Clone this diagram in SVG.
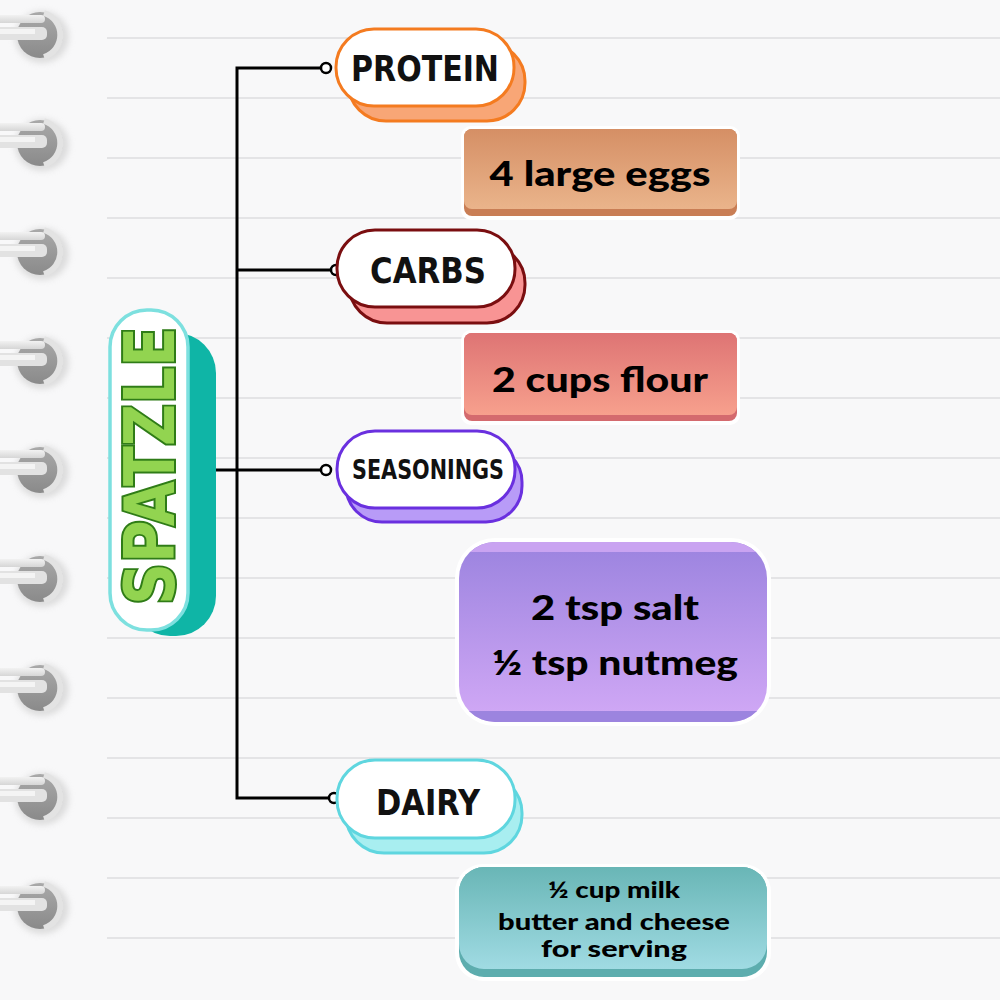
<svg xmlns="http://www.w3.org/2000/svg" width="1000" height="1000" viewBox="0 0 1000 1000">
<defs>
<style>
.rule{stroke:#e4e4e6;stroke-width:2}
.title{font-family:"DejaVu Sans Condensed","DejaVu Sans",sans-serif;font-weight:bold;fill:#111;text-anchor:middle;dominant-baseline:central}
.item{font-family:"Lato","Open Sans",sans-serif;font-weight:900;fill:#000;text-anchor:middle;dominant-baseline:central}
.conn{stroke:#000;stroke-width:3;fill:none}
.dot{fill:#fff;stroke:#000;stroke-width:2.5}
</style>
<linearGradient id="gEggs" x1="0" y1="0" x2="0" y2="1"><stop offset="0" stop-color="#d58f65"/><stop offset="1" stop-color="#eab48b"/></linearGradient>
<linearGradient id="gFlour" x1="0" y1="0" x2="0" y2="1"><stop offset="0" stop-color="#de7474"/><stop offset="1" stop-color="#f7a08d"/></linearGradient>
<linearGradient id="gSeas" x1="0" y1="0" x2="0" y2="1"><stop offset="0" stop-color="#9b83df"/><stop offset="1" stop-color="#d2a9f6"/></linearGradient>
<linearGradient id="gDairy" x1="0" y1="0" x2="0" y2="1"><stop offset="0" stop-color="#69b6b6"/><stop offset="1" stop-color="#a0dbe3"/></linearGradient>
<linearGradient id="gHole" x1="0" y1="0" x2="0" y2="1"><stop offset="0" stop-color="#a9a9a9"/><stop offset="1" stop-color="#8a8a8a"/></linearGradient>
<linearGradient id="gBar" x1="0" y1="0" x2="0" y2="1"><stop offset="0" stop-color="#f2f2f2"/><stop offset="1" stop-color="#d6d6d6"/></linearGradient>
<filter id="soft" x="-40%" y="-40%" width="180%" height="180%"><feGaussianBlur stdDeviation="3"/></filter>
<clipPath id="clipSalt"><rect x="459" y="542" width="308" height="180" rx="36"/></clipPath>
<g id="ring">
<ellipse cx="42" cy="3" rx="27" ry="26" fill="#d0d0d0" filter="url(#soft)" opacity="0.7"/>
<circle cx="40" cy="1" r="23" fill="url(#gHole)"/>
<path d="M44,-21 A23,23 0 0 1 44,23" fill="none" stroke="#e3e3e3" stroke-width="6"/>
<rect x="-5" y="-19" width="50" height="8" rx="4" fill="url(#gBar)"/>
<rect x="-5" y="-7" width="52" height="13" rx="5" fill="#e2e2e2"/>
<rect x="-5" y="-5" width="40" height="5" fill="#f4f4f4"/>
</g>
</defs>
<rect width="1000" height="1000" fill="#f8f8f9"/>
<g id="rules">
<line class="rule" x1="107" y1="38" x2="1000" y2="38"/>
<line class="rule" x1="107" y1="98" x2="1000" y2="98"/>
<line class="rule" x1="107" y1="158" x2="1000" y2="158"/>
<line class="rule" x1="107" y1="218" x2="1000" y2="218"/>
<line class="rule" x1="107" y1="278" x2="1000" y2="278"/>
<line class="rule" x1="107" y1="338" x2="1000" y2="338"/>
<line class="rule" x1="107" y1="398" x2="1000" y2="398"/>
<line class="rule" x1="107" y1="458" x2="1000" y2="458"/>
<line class="rule" x1="107" y1="518" x2="1000" y2="518"/>
<line class="rule" x1="107" y1="578" x2="1000" y2="578"/>
<line class="rule" x1="107" y1="638" x2="1000" y2="638"/>
<line class="rule" x1="107" y1="698" x2="1000" y2="698"/>
<line class="rule" x1="107" y1="758" x2="1000" y2="758"/>
<line class="rule" x1="107" y1="818" x2="1000" y2="818"/>
<line class="rule" x1="107" y1="878" x2="1000" y2="878"/>
<line class="rule" x1="107" y1="938" x2="1000" y2="938"/>
</g>
<g id="spiral">
<use href="#ring" y="34"/>
<use href="#ring" y="142"/>
<use href="#ring" y="251"/>
<use href="#ring" y="360"/>
<use href="#ring" y="469"/>
<use href="#ring" y="578"/>
<use href="#ring" y="687"/>
<use href="#ring" y="796"/>
<use href="#ring" y="905"/>
</g>
<g id="connectors">
<polyline class="conn" points="326,68 237,68 237,798 334,798"/>
<line class="conn" x1="237" y1="270" x2="336" y2="270"/>
<line class="conn" x1="216" y1="470" x2="326" y2="470"/>
<circle class="dot" cx="326" cy="68" r="5"/>
<circle class="dot" cx="336" cy="270" r="5"/>
<circle class="dot" cx="326" cy="470" r="5"/>
<circle class="dot" cx="334" cy="798" r="5"/>
</g>
<g id="spatzle">
<rect x="130" y="333" width="86" height="303" rx="40" fill="#0fb5a6"/>
<rect x="110" y="310" width="78" height="320" rx="37" fill="#fff" stroke="#7de0df" stroke-width="3.5"/>
<text transform="translate(150,466) rotate(-90)" font-family="'DejaVu Sans Condensed','DejaVu Sans',sans-serif" font-weight="bold" font-size="70" fill="#92d450" stroke="#2f7c17" stroke-width="4" paint-order="stroke" text-anchor="middle" dominant-baseline="central" textLength="278" lengthAdjust="spacingAndGlyphs">SPATZLE</text>
</g>
<g id="protein">
<rect x="348" y="43" width="177" height="78" rx="38" fill="#f8a676" stroke="#f47b20" stroke-width="3"/>
<rect x="336" y="29" width="178" height="77" rx="38" fill="#fff" stroke="#f47b20" stroke-width="3"/>
<text class="title" x="425" y="68" font-size="36" textLength="148" lengthAdjust="spacingAndGlyphs">PROTEIN</text>
</g>
<g id="eggs">
<rect x="461" y="126" width="279" height="94" rx="10" fill="#fff"/>
<rect x="464" y="129" width="273" height="87" rx="8" fill="#c97e55"/>
<rect x="464" y="129" width="273" height="80" rx="8" fill="url(#gEggs)"/>
<text class="item" x="600" y="172" font-size="34" textLength="221" lengthAdjust="spacingAndGlyphs">4 large eggs</text>
</g>
<g id="carbs">
<rect x="349" y="245" width="176" height="78" rx="38" fill="#f89494" stroke="#7a0e10" stroke-width="3"/>
<rect x="337" y="230" width="178" height="77" rx="38" fill="#fff" stroke="#7a0e10" stroke-width="3"/>
<text class="title" x="428" y="270" font-size="36" textLength="116" lengthAdjust="spacingAndGlyphs">CARBS</text>
</g>
<g id="flour">
<rect x="461" y="330" width="279" height="95" rx="10" fill="#fff"/>
<rect x="464" y="333" width="273" height="88" rx="8" fill="#d46a6e"/>
<rect x="464" y="333" width="273" height="82" rx="8" fill="url(#gFlour)"/>
<text class="item" x="600" y="378" font-size="34" textLength="216" lengthAdjust="spacingAndGlyphs">2 cups flour</text>
</g>
<g id="seasonings">
<rect x="346" y="446" width="176" height="76" rx="36" fill="#b89bf7" stroke="#6a30df" stroke-width="3"/>
<rect x="337" y="431" width="178" height="77" rx="38" fill="#fff" stroke="#6a30df" stroke-width="3"/>
<text class="title" x="428" y="470" font-size="26" textLength="152" lengthAdjust="spacingAndGlyphs">SEASONINGS</text>
</g>
<g id="salt">
<rect x="455" y="538" width="316" height="188" rx="40" fill="#fff"/>
<g clip-path="url(#clipSalt)">
<rect x="459" y="542" width="308" height="180" fill="url(#gSeas)"/>
<rect x="459" y="542" width="308" height="10" fill="#c9a3f1"/>
<rect x="459" y="711" width="308" height="11" fill="#9c84df"/>
</g>
<text class="item" x="615" y="606" font-size="34" textLength="168" lengthAdjust="spacingAndGlyphs">2 tsp salt</text>
<text class="item" x="615" y="661" font-size="34" textLength="246" lengthAdjust="spacingAndGlyphs">½ tsp nutmeg</text>
</g>
<g id="dairy">
<rect x="346" y="775" width="176" height="78" rx="38" fill="#a8eef0" stroke="#5fd6df" stroke-width="3"/>
<rect x="337" y="760" width="178" height="78" rx="38" fill="#fff" stroke="#5fd6df" stroke-width="3"/>
<text class="title" x="428" y="802" font-size="36" textLength="104" lengthAdjust="spacingAndGlyphs">DAIRY</text>
</g>
<g id="milk">
<rect x="455" y="864" width="316" height="117" rx="28" fill="#fff"/>
<rect x="459" y="867" width="308" height="110" rx="25" fill="#5dadae"/>
<rect x="459" y="867" width="308" height="102" rx="25" fill="url(#gDairy)"/>
<text class="item" x="614" y="889" font-size="22" textLength="132" lengthAdjust="spacingAndGlyphs">½ cup milk</text>
<text class="item" x="614" y="921" font-size="23" textLength="232" lengthAdjust="spacingAndGlyphs">butter and cheese</text>
<text class="item" x="614" y="948" font-size="23" textLength="146" lengthAdjust="spacingAndGlyphs">for serving</text>
</g>
</svg>
